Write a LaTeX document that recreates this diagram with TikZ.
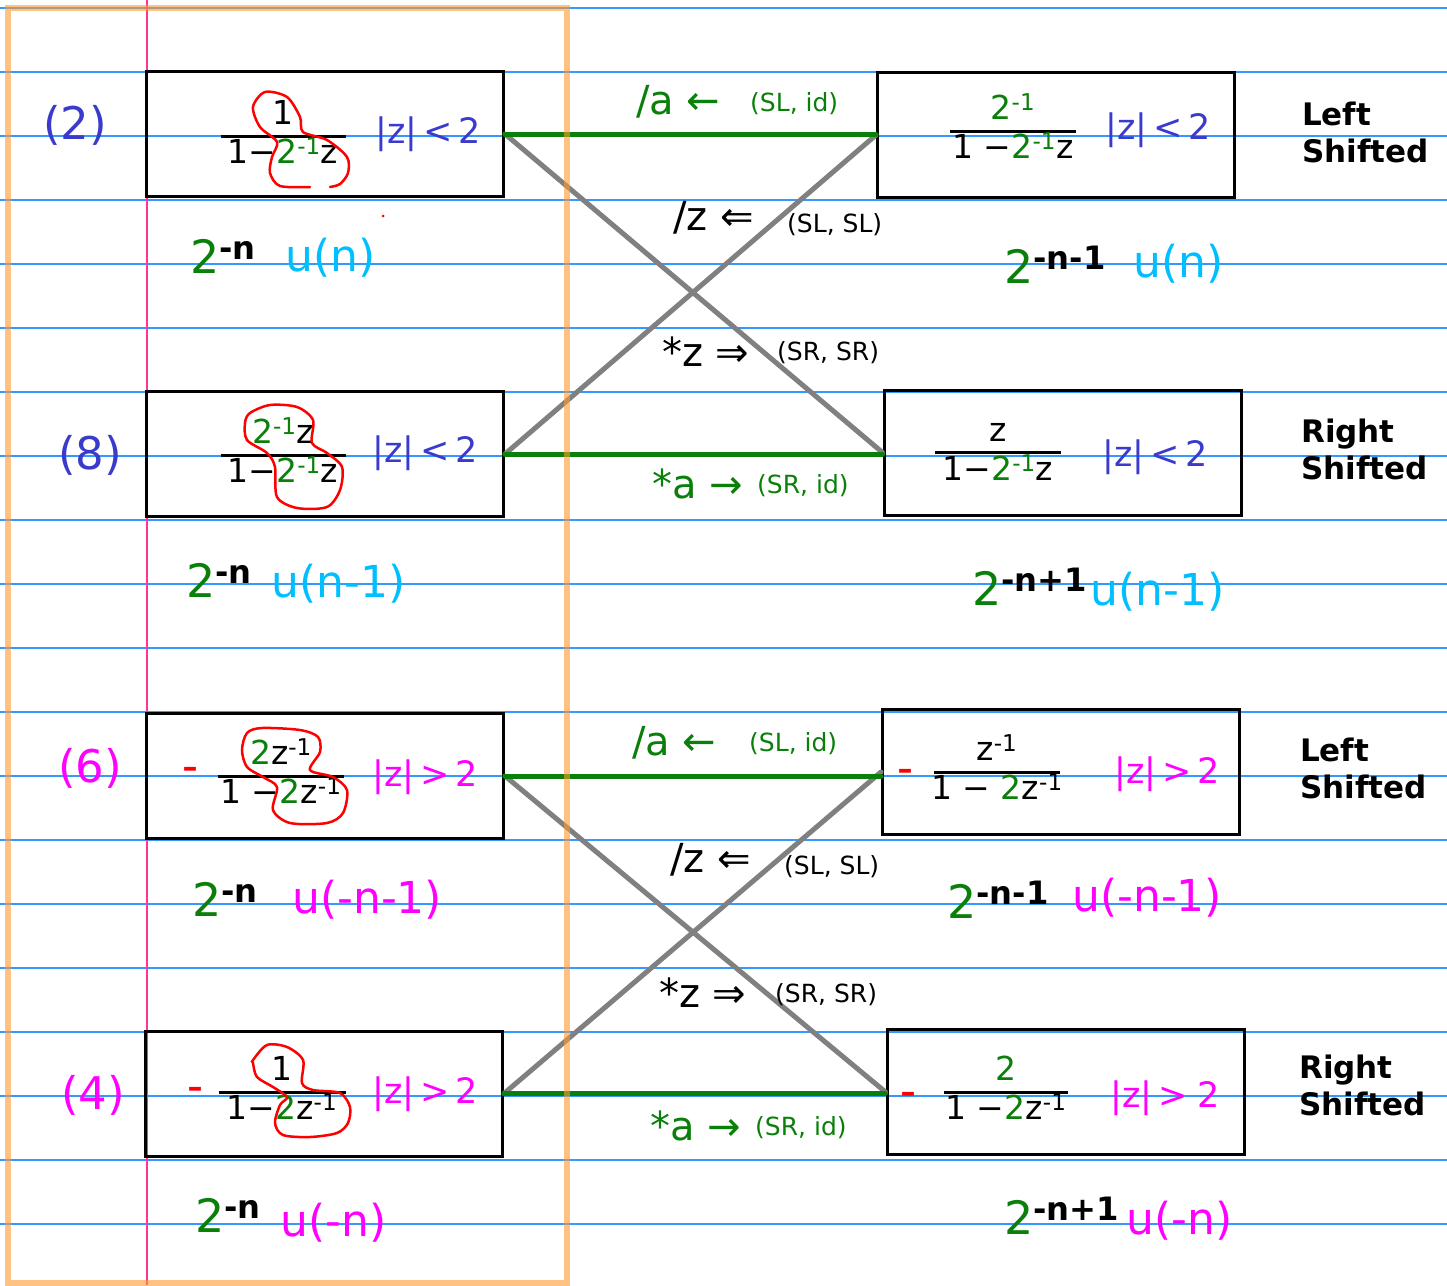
\documentclass[tikz,border=0pt]{standalone}
\usepackage{fontspec}
\setmainfont{DejaVu Sans}
\usetikzlibrary{positioning}
\definecolor{hgreen}{HTML}{0A7F0A}
\definecolor{hblue}{HTML}{3A3ACC}
\definecolor{hpink}{HTML}{FF00FF}
\definecolor{hcyan}{HTML}{00BFFF}
\definecolor{hred}{HTML}{FF0000}
\definecolor{ruleblue}{HTML}{3399FF}
\definecolor{marginpink}{HTML}{FF3399}
\definecolor{hiorange}{HTML}{FF9A30}
\setlength{\arrayrulewidth}{3pt}
\renewcommand{\arraystretch}{0.92}
\newcommand{\hfrac}[3]{\begin{tabular}{@{}c@{}}\makebox[#1]{#2}\\\hline\makebox[#1]{#3}\end{tabular}}
\newcommand{\inv}{\textsuperscript{-1}}
\tikzset{
  ruled/.style={draw=ruleblue, line width=1.2pt},
  fbox/.style={draw=black, line width=3pt, minimum width=357pt, minimum height=125pt, inner sep=0pt},
  idline/.style={draw=hgreen, line width=5pt, line cap=round},
  xline/.style={draw=black!50, line width=5pt, line cap=round},
  loop/.style={draw=hred, line width=2.5pt, line cap=round},
  eqno/.style={font=\fontsize{45}{48}\selectfont},
  opbig/.style={anchor=west, inner sep=0pt, font=\fontsize{40}{44}\selectfont},
  opsmall/.style={anchor=west, inner sep=0pt, font=\fontsize{25}{30}\selectfont},
  tag/.style={anchor=west, align=left, inner sep=0pt, font=\fontsize{31}{37}\bfseries\selectfont},
  frac/.style={inner sep=0pt, font=\fontsize{33}{36}\selectfont},
  roc/.style={inner sep=0pt, font=\fontsize{35}{38}\selectfont},
  pow/.style={anchor=base west, inner sep=0pt, font=\fontsize{46}{48}\selectfont},
  seq/.style={anchor=base west, inner sep=0pt, font=\fontsize{44}{48}\selectfont},
  neg/.style={inner sep=0pt, text=hred, font=\fontsize{30}{34}\bfseries\selectfont},
}
\newcommand{\twopow}[1]{{\color{hgreen}2}\raisebox{4pt}{\textsuperscript{\textbf{#1}}}}

\begin{document}
\begin{tikzpicture}[x=1pt, y=-1pt]
  \useasboundingbox (0,0) rectangle (1447,1285);
  % paper
  \foreach \y in {8,72,...,1224} \draw[ruled] (0,\y) -- (1447,\y);
  \draw[marginpink, line width=1.2pt] (147,0) -- (147,1285);

  % boxes
  \node[fbox] (A) at (325,134) {};
  \node[fbox] (B) at (1056,135) {};
  \node[fbox] (C) at (325,454) {};
  \node[fbox] (D) at (1062.5,452.5) {};
  \node[fbox] (E) at (325,776) {};
  \node[fbox] (F) at (1061,772) {};
  \node[fbox] (G) at (324,1093.5) {};
  \node[fbox] (H) at (1065.5,1092) {};

  % box contents
  \node[frac] (fA) at (283,137) {\hfrac{125pt}{1}{1−{\color{hgreen}2\inv}z}};
  \node[roc, text=hblue] (rA) at (428,134) {|z|\,<\,2};
  \node[frac] (fB) at (1013,131) {\hfrac{126pt}{\color{hgreen}2\inv}{1 −{\color{hgreen}2\inv}z}};
  \node[roc, text=hblue] (rB) at (1158,130) {|z|\,<\,2};
  \node[frac] (fC) at (283,455) {\hfrac{125pt}{{\color{hgreen}2\inv}z}{1−{\color{hgreen}2\inv}z}};
  \node[roc, text=hblue] (rC) at (425,453) {|z|\,<\,2};
  \node[frac] (fD) at (998,454) {\hfrac{126pt}{z}{1−{\color{hgreen}2\inv}z}};
  \node[roc, text=hblue] (rD) at (1155,457) {|z|\,<\,2};
  \node[neg] (nE) at (190,772) {–};
  \node[frac] (fE) at (281,776) {\hfrac{126pt}{{\color{hgreen}2}z\inv}{1 −{\color{hgreen}2}z\inv}};
  \node[roc, text=hpink] (rE) at (425,777) {|z|\,>\,2};
  \node[neg] (nF) at (905,774) {–};
  \node[frac] (fF) at (997,772) {\hfrac{126pt}{z\inv}{1 − {\color{hgreen}2}z\inv}};
  \node[roc, text=hpink] (rF) at (1167,774) {|z|\,>\,2};
  \node[neg] (nG) at (195,1092) {–};
  \node[frac] (fG) at (282,1093) {\hfrac{127pt}{1}{1−{\color{hgreen}2}z\inv}};
  \node[roc, text=hpink] (rG) at (425,1094) {|z|\,>\,2};
  \node[neg] (nH) at (908,1097) {–};
  \node[frac] (fH) at (1006,1093) {\hfrac{124pt}{\color{hgreen}2}{1 −{\color{hgreen}2}z\inv}};
  \node[roc, text=hpink] (rH) at (1165,1098) {|z|\,>\;2};

  % red loops
  \draw[loop] plot[smooth] coordinates {(310,187) (280,186) (270,173) (272,157) (277,142) (260,127) (253,107) (265,92) (287,97) (300,117) (303,132) (327,140) (347,157) (348,173) (340,184) (330,187)};
  \draw[loop] plot[smooth cycle] coordinates {(250,413) (270,405) (297,407) (313,420) (312,443) (327,453) (342,467) (340,490) (327,507) (297,508) (277,497) (275,467) (267,453) (247,440) (245,423)};
  \draw[loop] plot[smooth cycle] coordinates {(247,733) (262,728) (300,730) (318,737) (320,752) (310,770) (333,777) (347,790) (343,813) (327,823) (290,823) (273,810) (277,787) (263,777) (247,767) (242,750)};
  \draw[loop] plot[smooth cycle] coordinates {(253,1060) (267,1045) (287,1047) (303,1060) (302,1083) (313,1090) (340,1093) (350,1107) (348,1123) (337,1133) (310,1137) (283,1135) (275,1123) (280,1105) (287,1097) (273,1087) (257,1077) (253,1063)};
  \fill[hred] (383,216) circle (1.5);

  % connectors
  \draw[xline] (A.east) -- (D.west);
  \draw[xline] (C.east) -- (B.west);
  \draw[idline] (A.east) -- (A.east -| B.west);
  \draw[idline] (C.east) -- (C.east -| D.west);
  \draw[xline] (E.east) -- (H.west);
  \draw[xline] (G.east) -- (F.west);
  \draw[idline] (E.east) -- (E.east -| F.west);
  \draw[idline] (G.east) -- (G.east -| H.west);

  % operation labels
  \node[opbig, text=hgreen] (o1) at (636,102) {/a ←};
  \node[opsmall, text=hgreen] (p1) at (750,104) {(SL, id)};
  \node[opbig] (o2) at (673,218) {/z ⇐};
  \node[opsmall] (p2) at (787,225) {(SL, SL)};
  \node[opbig] (o3) at (662,352) {*z ⇒};
  \node[opsmall] (p3) at (777,353) {(SR, SR)};
  \node[opbig, text=hgreen] (o4) at (652,484) {*a →};
  \node[opsmall, text=hgreen] (p4) at (757,486) {(SR, id)};
  \node[opbig, text=hgreen] (o5) at (632,743) {/a ←};
  \node[opsmall, text=hgreen] (p5) at (749,744) {(SL, id)};
  \node[opbig] (o6) at (670,860) {/z ⇐};
  \node[opsmall] (p6) at (784,867) {(SL, SL)};
  \node[opbig] (o7) at (659,993) {*z ⇒};
  \node[opsmall] (p7) at (775,995) {(SR, SR)};
  \node[opbig, text=hgreen] (o8) at (650,1126) {*a →};
  \node[opsmall, text=hgreen] (p8) at (755,1128) {(SR, id)};

  % equation numbers
  \node[eqno, text=hblue] (q2) at (75,125) {(2)};
  \node[eqno, text=hblue] (q8) at (90,455) {(8)};
  \node[eqno, text=hpink] (q6) at (90,768) {(6)};
  \node[eqno, text=hpink] (q4) at (93,1095) {(4)};

  % shift tags
  \node[tag] (tB) at (1302,132) {Left\\Shifted};
  \node[tag] (tD) at (1301,449) {Right\\Shifted};
  \node[tag] (tF) at (1300,768) {Left\\Shifted};
  \node[tag] (tH) at (1299,1085) {Right\\Shifted};

  % sequences
  \node[pow] (sA) at (190,273) {\twopow{-n}};
  \node[seq, text=hcyan] (uA) at (285,271) {u(n)};
  \node[pow] (sB) at (1004,283) {\twopow{-n-1}};
  \node[seq, text=hcyan] (uB) at (1133,277) {u(n)};
  \node[pow] (sC) at (186,597) {\twopow{-n}};
  \node[seq, text=hcyan] (uC) at (271,597) {u(n-1)};
  \node[pow] (sD) at (972,605) {\twopow{-n+1}};
  \node[seq, text=hcyan] (uD) at (1090,605) {u(n-1)};
  \node[pow] (sE) at (192,916) {\twopow{-n}};
  \node[seq, text=hpink] (uE) at (292,913) {u(-n-1)};
  \node[pow] (sF) at (947,918) {\twopow{-n-1}};
  \node[seq, text=hpink] (uF) at (1072,911) {u(-n-1)};
  \node[pow] (sG) at (195,1232) {\twopow{-n}};
  \node[seq, text=hpink] (uG) at (280,1236) {u(-n)};
  \node[pow] (sH) at (1004,1234) {\twopow{-n+1}};
  \node[seq, text=hpink] (uH) at (1126,1234) {u(-n)};

  % highlight
  \draw[hiorange, line width=6pt, opacity=0.6] (8,8) rectangle (567,1283);
\end{tikzpicture}
\end{document}
